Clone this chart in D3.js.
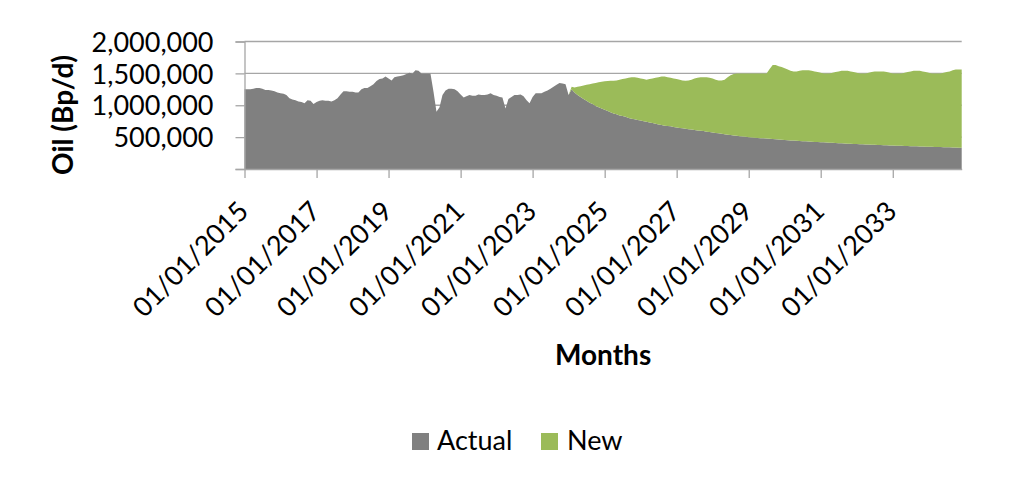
<!DOCTYPE html>
<html>
<head>
<meta charset="utf-8">
<script src="https://cdn.jsdelivr.net/npm/d3@7"></script>
<style>
  html, body { margin: 0; padding: 0; background: #fff; }
  svg { display: block; }
  text { font-family: Lato, "Open Sans", sans-serif; fill: #000; }
</style>
</head>
<body>
<svg id="chart" width="1024" height="488"></svg>
<script>
// ---- Data (thousand barrels per day, monthly from Jan 2015 to Dec 2034) ----
const startMonth = new Date(2015, 0, 1);
const endMonth = new Date(2034, 11, 1);
const months = d3.timeMonth.range(startMonth, new Date(2035, 0, 1));

const seriesNames = ["Actual", "New"];

const actualKbd = [
  1250,1250,1250,1260,1270,1270,1260,1240,1240,1230,1220,1200, // 2015
  1190,1180,1160,1110,1090,1080,1060,1050,1030,1080,1070,1020, // 2016
  1050,1070,1080,1070,1070,1060,1080,1110,1170,1220,1220,1210, // 2017
  1210,1200,1200,1250,1270,1270,1300,1330,1380,1410,1420,1450, // 2018
  1420,1390,1440,1450,1460,1470,1490,1510,1500,1550,1540,1500, // 2019
  1500,1500,1500,1210, 900, 970,1160,1230,1260,1260,1250,1220, // 2020
  1170,1120,1140,1160,1150,1150,1170,1160,1160,1170,1190,1160, // 2021
  1150,1130,1120, 950,1100,1130,1160,1160,1170,1140,1080,1030, // 2022
  1130,1190,1190,1190,1210,1230,1260,1290,1320,1350,1340,1330, // 2023
  1160,1250,1200,1160,1130,1100,1070,1040,1020, 990, 970, 950, // 2024
   930, 910, 890, 870, 860, 840, 830, 820, 800, 790, 780, 770, // 2025
   760, 750, 740, 730, 720, 710, 700, 690, 680, 675, 670, 660, // 2026
   650, 645, 640, 630, 625, 620, 610, 605, 600, 595, 585, 580, // 2027
   573, 566, 559, 552, 545, 539, 533, 527, 521, 515, 510, 505, // 2028
   500, 495, 490, 487, 484, 481, 478, 475, 471, 467, 463, 459, // 2029
   455, 452, 449, 446, 443, 440, 437, 434, 431, 428, 425, 423, // 2030
   420, 418, 415, 413, 410, 408, 405, 403, 400, 398, 396, 394, // 2031
   392, 390, 388, 386, 384, 382, 380, 378, 376, 374, 372, 370, // 2032
   368, 366, 364, 363, 362, 360, 358, 357, 355, 353, 352, 350, // 2033
   349, 348, 346, 345, 344, 343, 341, 340, 339, 337, 335, 334  // 2034
];

const newKbd = [
     0,   0,   0,   0,   0,   0,   0,   0,   0,   0,   0,   0, // 2015
     0,   0,   0,   0,   0,   0,   0,   0,   0,   0,   0,   0, // 2016
     0,   0,   0,   0,   0,   0,   0,   0,   0,   0,   0,   0, // 2017
     0,   0,   0,   0,   0,   0,   0,   0,   0,   0,   0,   0, // 2018
     0,   0,   0,   0,   0,   0,   0,   0,   0,   0,   0,   0, // 2019
     0,   0,   0,   0,   0,   0,   0,   0,   0,   0,   0,   0, // 2020
     0,   0,   0,   0,   0,   0,   0,   0,   0,   0,   0,   0, // 2021
     0,   0,   0,   0,   0,   0,   0,   0,   0,   0,   0,   0, // 2022
     0,   0,   0,   0,   0,   0,   0,   0,   0,   0,   0,   0, // 2023
     0,  40,  80, 130, 170, 210, 250, 290, 320, 360, 390, 420, // 2024
   445, 470, 495, 515, 530, 560, 580, 600, 630, 650, 660, 660, // 2025
   660, 660, 660, 680, 700, 720, 740, 760, 770, 765, 760, 760, // 2026
   760, 755, 750, 755, 765, 780, 810, 825, 840, 845, 855, 850, // 2027
   847, 834, 831, 838, 855, 901, 937, 963, 979, 985, 990, 995, // 2028
  1000,1005,1010,1013,1016,1019,1022,1095,1159,1163,1147,1141, // 2029
  1125,1108,1091,1084,1087,1100,1113,1116,1119,1112,1105,1097, // 2030
  1090,1082,1085,1087,1100,1112,1125,1137,1140,1142,1134,1126, // 2031
  1118,1110,1112,1114,1126,1138,1150,1152,1154,1156,1148,1140, // 2032
  1132,1134,1136,1137,1148,1160,1172,1183,1185,1187,1178,1170, // 2033
  1161,1152,1154,1155,1156,1167,1179,1190,1211,1223,1225,1226  // 2034
];

const yTickValues = [0, 500000, 1000000, 1500000, 2000000];
const xTickYears = [2015, 2017, 2019, 2021, 2023, 2025, 2027, 2029, 2031, 2033];

const colors = { Actual: "#808080", New: "#9BBB59" };

// ---- Layout ----
const plot = { left: 244.5, right: 961.7, top: 41.5, bottom: 169 };
const svg = d3.select("#chart");

const x = d3.scaleTime().domain([startMonth, endMonth]).range([plot.left, plot.right]);
const y = d3.scaleLinear().domain([0, 2000000]).range([plot.bottom, plot.top]);

const table = months.map((d, i) => ({ date: d, Actual: actualKbd[i] * 1000, New: newKbd[i] * 1000 }));
const stacked = d3.stack().keys(seriesNames)(table);

const gridColor = "#a6a6a6";

// gridlines
svg.append("g").selectAll("line")
  .data(yTickValues.filter(v => v > 0))
  .join("line")
  .attr("x1", plot.left).attr("x2", plot.right)
  .attr("y1", d => y(d)).attr("y2", d => y(d))
  .attr("stroke", gridColor).attr("stroke-width", 1.3);

// areas
const area = d3.area()
  .x(d => x(d.data.date))
  .y0(d => y(d[0]))
  .y1(d => y(d[1]));

svg.append("g").selectAll("path")
  .data(stacked)
  .join("path")
  .attr("fill", d => colors[d.key])
  .attr("d", area);

// y axis
const yAxis = d3.axisLeft(y)
  .tickValues(yTickValues)
  .tickSize(9)
  .tickPadding(22)
  .tickFormat(d => d === 0 ? "" : d3.format(",")(d));
const gy = svg.append("g").attr("transform", `translate(${plot.left},0)`).call(yAxis);
gy.select(".domain").attr("stroke", gridColor).attr("stroke-width", 1.3);
gy.selectAll(".tick line").attr("stroke", gridColor).attr("stroke-width", 1.3);
gy.selectAll(".tick text")
  .attr("font-family", "Lato, sans-serif")
  .attr("font-size", 27)
  .attr("fill", "#000")
  .attr("dy", "0.36em");

// x axis
const xAxis = d3.axisBottom(x)
  .tickValues(xTickYears.map(yv => new Date(yv, 0, 1)))
  .tickSize(9)
  .tickSizeOuter(0)
  .tickFormat(d3.timeFormat("%d/%m/%Y"));
const gx = svg.append("g").attr("transform", `translate(0,${plot.bottom})`).call(xAxis);
gx.select(".domain").attr("stroke", gridColor).attr("stroke-width", 1.3);
gx.selectAll(".tick line").attr("stroke", gridColor).attr("stroke-width", 1.3);
gx.selectAll(".tick text")
  .attr("font-family", "Lato, sans-serif")
  .attr("font-size", 27)
  .attr("fill", "#000")
  .attr("text-anchor", "end")
  .attr("y", 0).attr("dy", 0)
  .attr("transform", "translate(5,44) rotate(-45)");

// axis titles
svg.append("text")
  .attr("transform", "translate(73,115) rotate(-90)")
  .attr("text-anchor", "middle")
  .attr("font-size", 28)
  .attr("font-weight", "bold")
  .text("Oil (Bp/d)");

svg.append("text")
  .attr("x", (plot.left + plot.right) / 2)
  .attr("y", 365)
  .attr("text-anchor", "middle")
  .attr("font-size", 28)
  .attr("font-weight", "bold")
  .text("Months");

// legend
const legendItems = [
  { key: "Actual", sx: 412, tx: 437 },
  { key: "New", sx: 541, tx: 567 }
];
const lg = svg.append("g");
legendItems.forEach(it => {
  lg.append("rect").attr("x", it.sx).attr("y", 433).attr("width", 17).attr("height", 17)
    .attr("fill", colors[it.key]);
  lg.append("text").attr("x", it.tx).attr("y", 450).attr("font-size", 27).text(it.key);
});
</script>
</body>
</html>
